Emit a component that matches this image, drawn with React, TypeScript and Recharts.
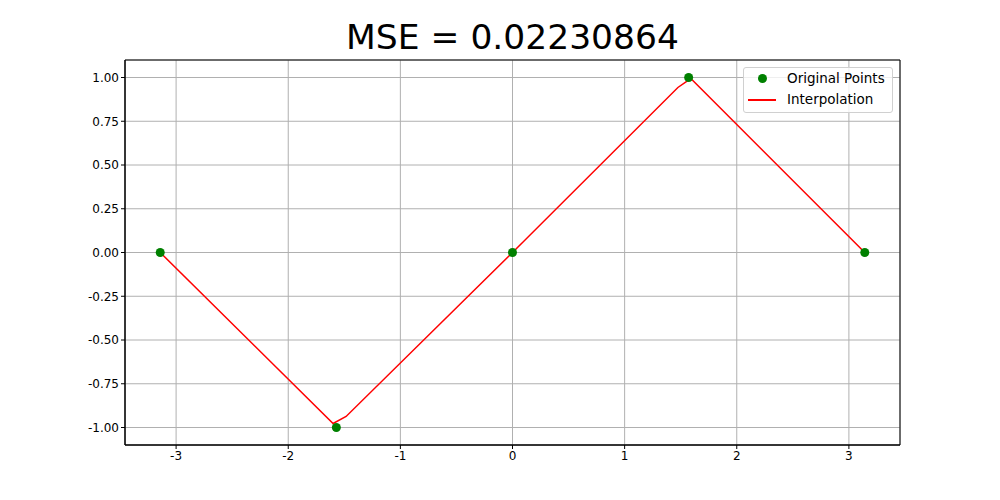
import React from 'react';
import { ComposedChart, Line, Scatter, XAxis, YAxis, CartesianGrid, ReferenceArea } from 'recharts';

const pointX = [-3.14159, -1.5708, 0, 1.5708, 3.14159];
const pointY = [0, -1, 0, 1, 0];
const lineX = [-3.14159, -1.6, -1.484, 0, 1.475, 1.59, 3.14159];
const lineY = [0, -0.977, -0.937, 0, 0.943, 0.994, 0];
const xTicks = [-3, -2, -1, 0, 1, 2, 3];
const yTicks = [-1, -0.75, -0.5, -0.25, 0, 0.25, 0.5, 0.75, 1];

const points = pointX.map((x, i) => ({ x, y: pointY[i] }));
const lineData = lineX.map((x, i) => ({ x, y: lineY[i] }));
const XD = 3.14159 * 1.1;
const font = { fontFamily: 'DejaVu Sans', fontSize: 12, fill: '#000' };

export default function App() {
  return (
    <div style={{ position: 'absolute', left: 0, top: 0, width: 1000, height: 500, background: '#fff', fontFamily: 'DejaVu Sans' }}>
      <div style={{ position: 'absolute', left: 0, width: 1025, top: 17, textAlign: 'center', fontSize: 34.5 }}>MSE = 0.02230864</div>
      <ComposedChart width={1000} height={500} margin={{ top: 60, right: 100, bottom: 0, left: 0 }}>
        <CartesianGrid stroke="#b0b0b0" strokeWidth={1} vertical horizontal />
        <XAxis type="number" dataKey="x" domain={[-XD, XD]} ticks={xTicks} height={55} allowDataOverflow
          tick={font} tickLine={{ stroke: '#000' }} tickSize={4} axisLine={{ stroke: '#000' }} />
        <YAxis type="number" dataKey="y" domain={[-1.1, 1.1]} ticks={yTicks} width={125} allowDataOverflow
          tick={font} tickLine={{ stroke: '#000' }} tickSize={4} axisLine={{ stroke: '#000' }}
          tickFormatter={(v: number) => v.toFixed(2)} />
        <ReferenceArea x1={-XD} x2={XD} y1={-1.1} y2={1.1} fill="none" stroke="#000" strokeWidth={1} />
        <Line data={lineData} dataKey="y" type="linear" stroke="red" strokeWidth={1.5} dot={false} isAnimationActive={false} />
        <Scatter data={points} dataKey="y" fill="green" isAnimationActive={false}
          shape={(p: any) => <circle cx={p.cx} cy={p.cy} r={4.5} fill="green" />} />
      </ComposedChart>
      <div style={{ position: 'absolute', left: 743, top: 67, width: 148, height: 44, border: '1px solid #d0d0d0', borderRadius: 3, background: 'rgba(255,255,255,0.8)', fontSize: 13.5 }}>
        <div style={{ position: 'absolute', left: 14, top: 6, width: 9, height: 9, borderRadius: 5, background: 'green' }} />
        <div style={{ position: 'absolute', left: 43, top: 2 }}>Original Points</div>
        <div style={{ position: 'absolute', left: 4, top: 31, width: 28, height: 2, background: 'red' }} />
        <div style={{ position: 'absolute', left: 43, top: 23 }}>Interpolation</div>
      </div>
    </div>
  );
}
